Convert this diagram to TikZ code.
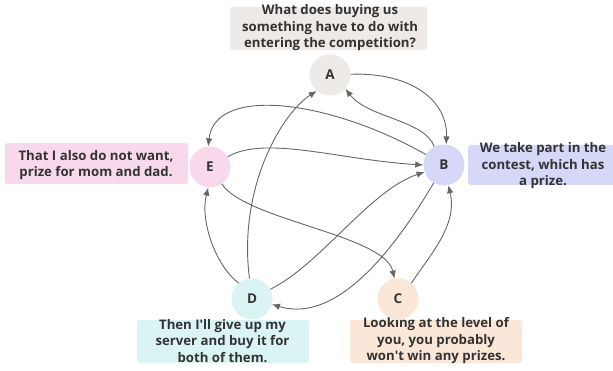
\documentclass[tikz,border=0pt]{standalone}
\usepackage{fontspec}
\setmainfont{Open Sans}
\usetikzlibrary{arrows.meta}
\definecolor{ink}{HTML}{333333}
\definecolor{edge}{HTML}{666666}
\definecolor{cA}{HTML}{EEEAE8}
\definecolor{cB}{HTML}{D6D8F7}
\definecolor{cC}{HTML}{FBE7D7}
\definecolor{cD}{HTML}{D9F4F3}
\definecolor{cE}{HTML}{F8D9EB}
\tikzset{
  state/.style={circle, minimum size=41pt, inner sep=0pt, text=ink,
    font=\bfseries\fontsize{13.5}{15}\selectfont},
  notebox/.style={rectangle, rounded corners=2.5pt, inner sep=0pt},
  notetext/.style={align=center, text=ink, inner sep=0pt,
    font=\bfseries\fontsize{13.2}{16.5}\selectfont},
  link/.style={draw=edge, line width=0.9pt, -{Latex[length=8pt,width=6.5pt]}},
}
\begin{document}
\begin{tikzpicture}[x=1pt, y=-1pt]
\useasboundingbox (0,0) rectangle (613,371);

% note backgrounds
\node[notebox, fill=cA, minimum width=197pt, minimum height=43pt] (boxA) at (328.5,28.5) {};
\node[notebox, fill=cE, minimum width=183pt, minimum height=41pt] (boxE) at (96.5,163.5) {};
\node[notebox, fill=cB, minimum width=150pt, minimum height=40pt, anchor=west] (boxB) at (468,165) {};
\node[notebox, fill=cD, minimum width=172pt, minimum height=43pt] (boxD) at (223,341.5) {};
\node[notebox, fill=cC, minimum width=172pt, minimum height=43pt] (boxC) at (436,341.5) {};

% note texts
\node[notetext] (tA) at (330,28) {What does buying us\\something have to do with\\entering the competition?};
\node[notetext] (tE) at (96,165) {That I also do not want,\\prize for mom and dad.};
\node[notetext] (tB) at (543,166) {We take part in the\\contest, which has\\a prize.};
\node[notetext] (tD) at (222.5,341) {Then I\textquotesingle ll give up my\\server and buy it for\\both of them.};
\node[notetext] (tC) at (436,341) {Looking at the level of\\you, you probably\\won\textquotesingle t win any prizes.};

% states
\node[state, fill=cA] (A) at (330,75) {A};
\node[state, fill=cB] (B) at (444,165) {B};
\node[state, fill=cC] (C) at (398,299) {C};
\node[state, fill=cD] (D) at (252,299) {D};
\node[state, fill=cE] (E) at (210,167) {E};

% transitions
\draw[link] (A.2) .. controls (410,72) and (448,100) .. (B.84);
\draw[link] (B.118) .. controls (425,120) and (368,118) .. (A.-42);
\draw[link] (B.150) .. controls (330,100) and (215,85) .. (E.95);
\draw[link] (E.30) .. controls (265,135) and (340,160) .. (B.180);
\draw[link] (E.-55) .. controls (245,220) and (385,235) .. (C.100);
\draw[link] (D.130) .. controls (215,265) and (200,220) .. (E.-95);
\draw[link] (D.97) .. controls (238,190) and (280,115) .. (A.-130);
\draw[link] (D.28) .. controls (320,265) and (370,190) .. (B.-160);
\draw[link] (B.-120) .. controls (400,240) and (340,325) .. (D.-15);
\draw[link] (C.50) .. controls (430,255) and (458,225) .. (B.-78);
\end{tikzpicture}
\end{document}
